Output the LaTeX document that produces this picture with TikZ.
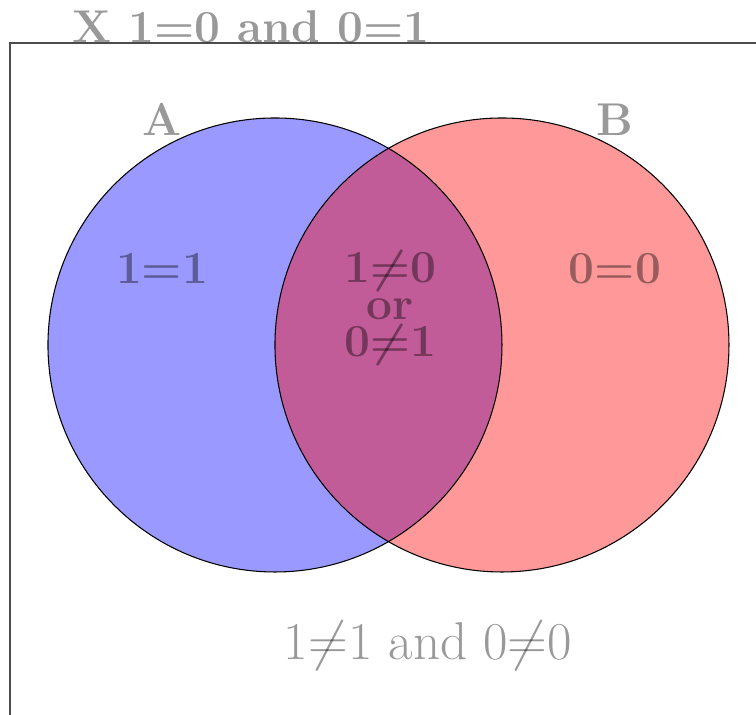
\documentclass[tikz,border=0pt]{standalone}
\usepackage{amsmath}
\usepackage{tikz}
\usetikzlibrary{positioning}

\begin{document}
\begin{tikzpicture}[
    setlabel/.style={text=black,text opacity=0.4,font=\LARGE\bfseries},
    setcircle/.style={draw=black,fill opacity=0.4}
  ]
  \useasboundingbox (-3.634,-4.890) rectangle (6.357,4.559);
  \clip (-3.634,-4.890) rectangle (6.357,4.559);
  % universe
  \draw[black!70,semithick] (-3.502,-6) -- (-3.502,3.991) -- (7,3.991);
  % the two sets
  \fill[blue,fill opacity=0.4] (0,0) circle (3cm);
  \fill[red,fill opacity=0.4] (3,0) circle (3cm);
  \draw (0,0) circle (3cm);
  \draw (3,0) circle (3cm);
  % labels
  \node[setlabel,anchor=base] (univ) at (-0.317,4.004) {X 1=0 and 0=1};
  \node[setlabel,anchor=base] (seta) at (-1.493,2.775) {A};
  \node[setlabel,anchor=base] (setb) at (4.493,2.775) {B};
  \node[setlabel,anchor=base] (onlya) at (-1.493,0.806) {1=1};
  \node[setlabel,anchor=base] (onlyb) at (4.493,0.806) {0=0};
  \node[setlabel,align=center,font=\fontsize{17.28}{14}\selectfont\bfseries]
    (both) at (1.52,0.49) {1$\boldsymbol{\neq}$0\\or\\0$\boldsymbol{\neq}$1};
  \node[setlabel,anchor=base,font=\fontsize{20}{24}\selectfont] (none) at (2.022,-4.163) {1$\neq$1 and 0$\neq$0};
\end{tikzpicture}
\end{document}
